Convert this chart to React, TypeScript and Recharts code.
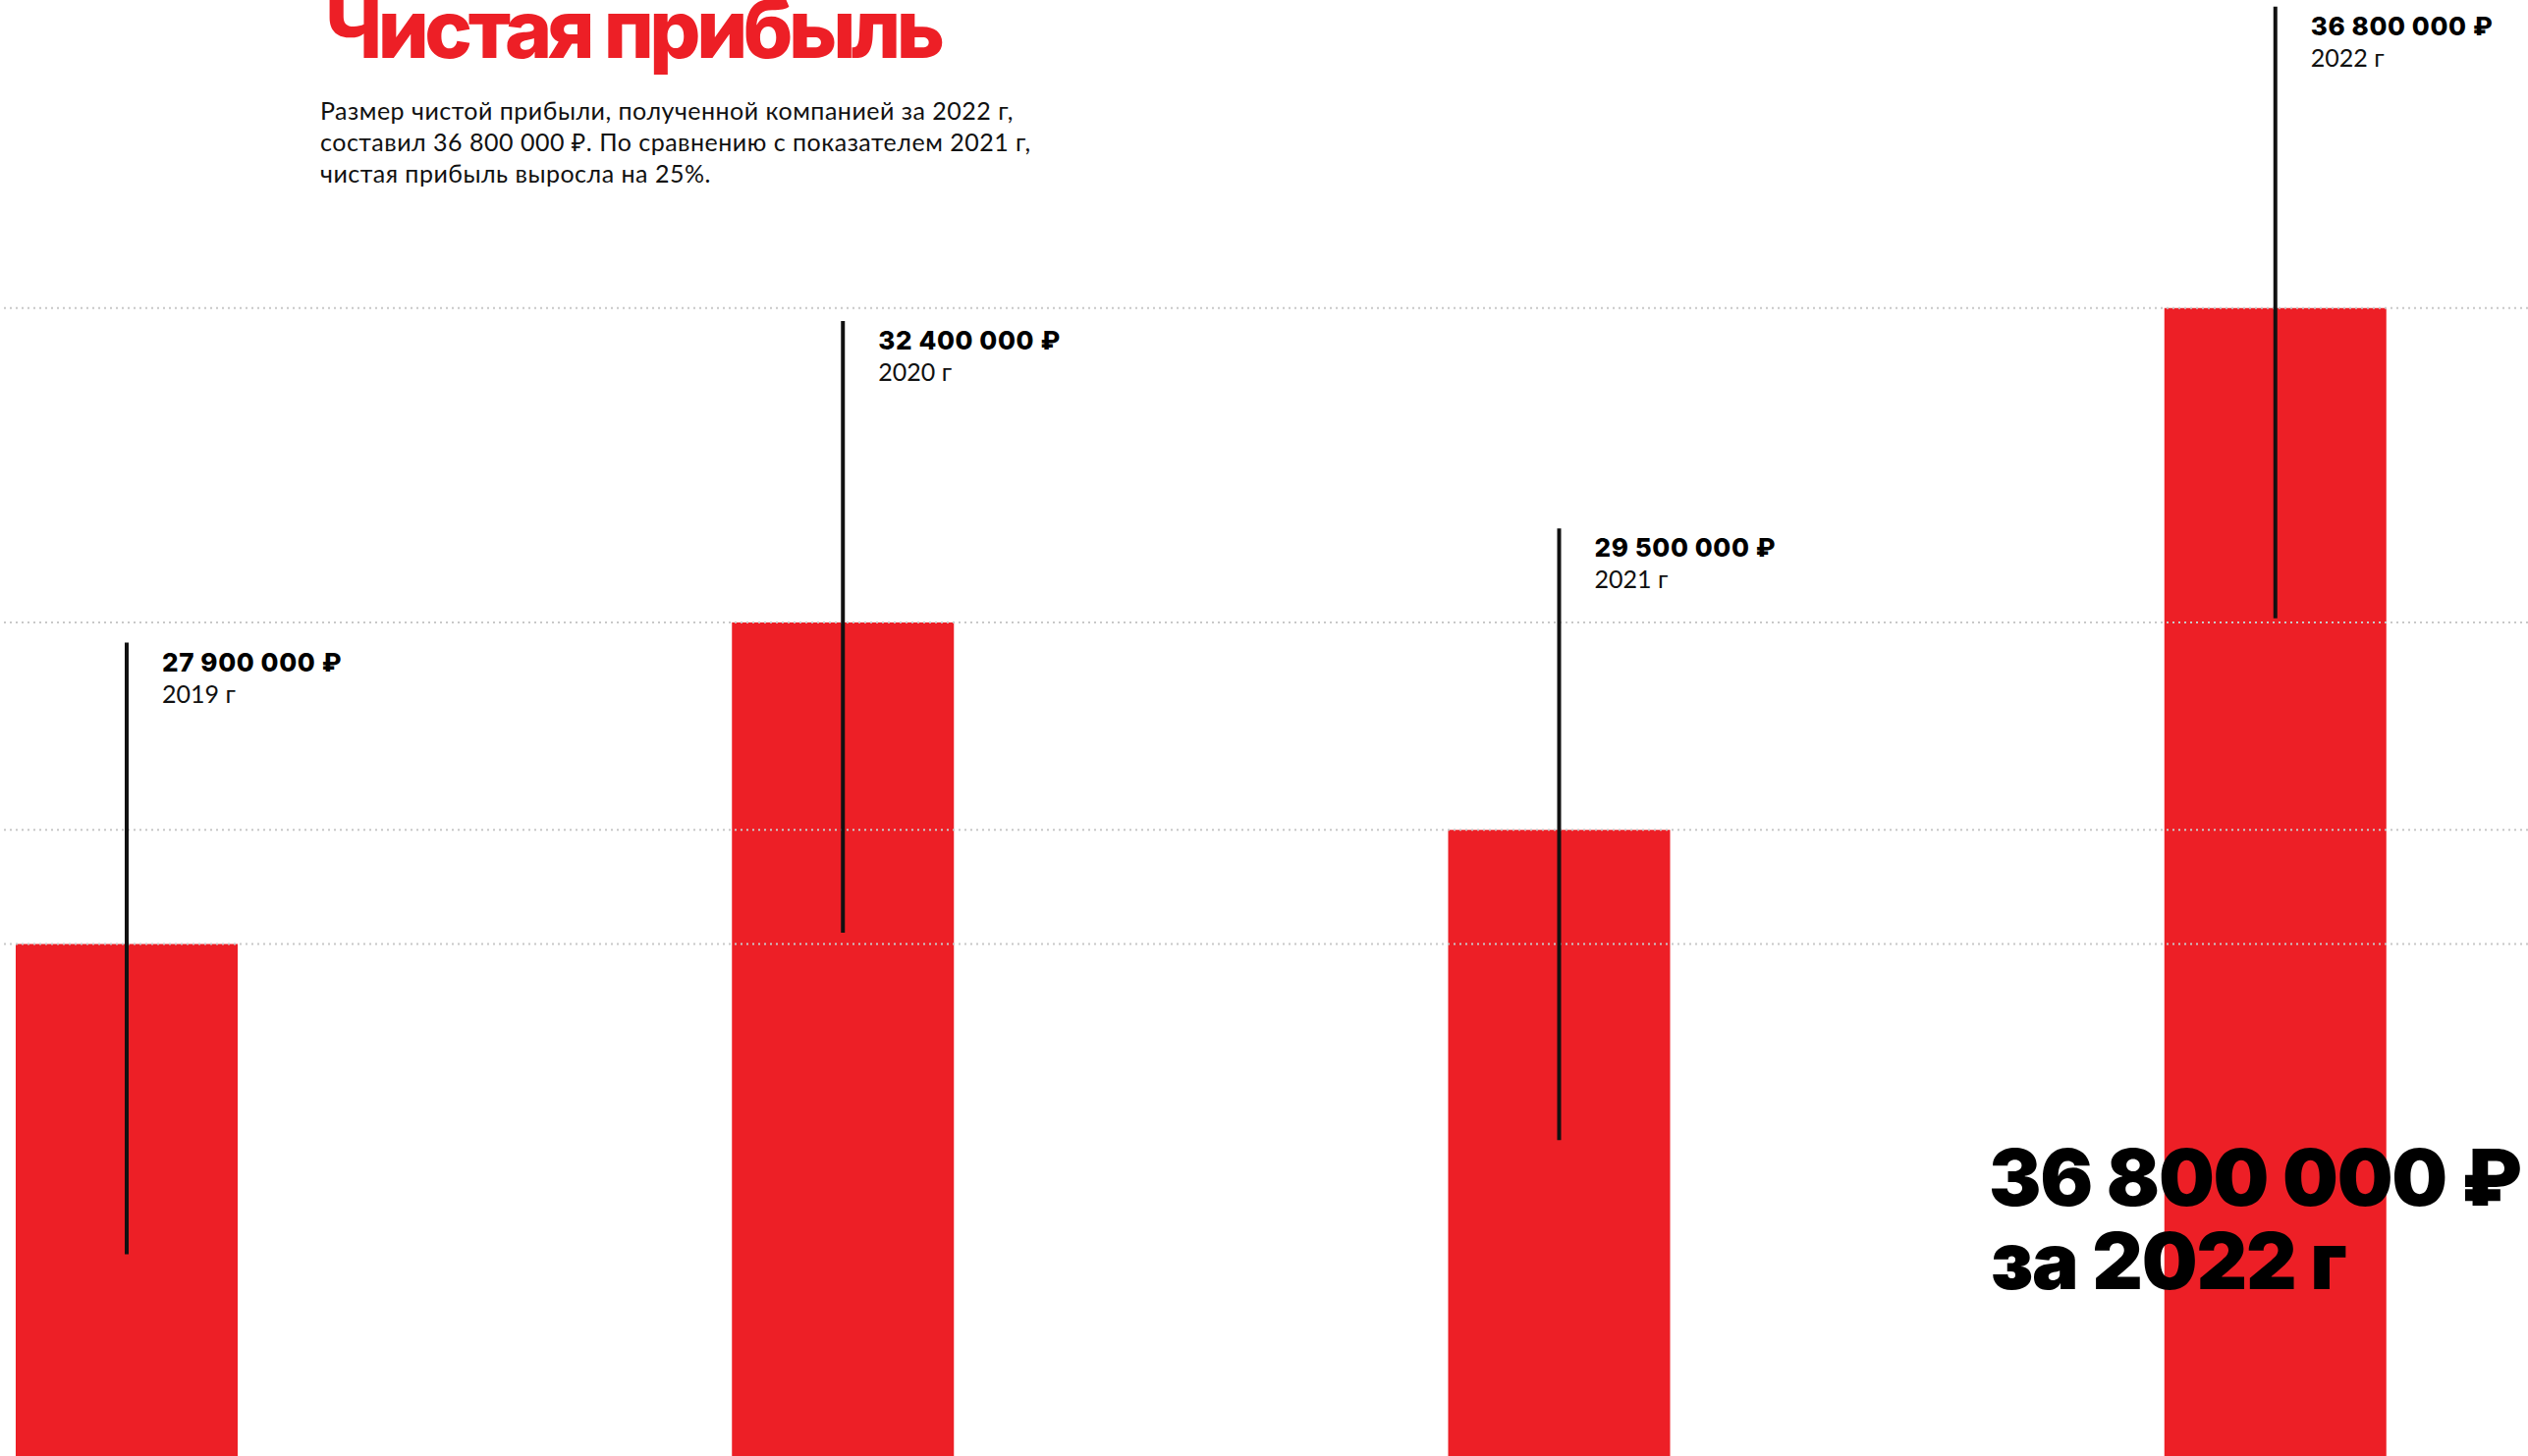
import React from 'react';
import { BarChart, Bar, XAxis, YAxis, ReferenceLine, LabelList } from 'recharts';

// net profit by year, rubles
const years = ['2019', '2020', '2021', '2022'];
const profits = [27900000, 32400000, 29500000, 36800000];

const title = 'Чистая прибыль';
const introLines = [
  'Размер чистой прибыли, полученной компанией за 2022 г,',
  'составил 36 800 000 ₽. По сравнению с показателем 2021 г,',
  'чистая прибыль выросла на 25%.',
];

const RED = '#ED1F26';
const HEAVY = 'Inter, "Noto Sans", sans-serif';
const LIGHT = 'Lato, "Noto Sans", sans-serif';

const W = 2574;
const H = 1483;

const data = years.map((year, i) => ({ year, profit: profits[i] }));

const formatRub = (v: number) =>
  v.toString().replace(/\B(?=(\d{3})+(?!\d))/g, ' ') + ' ₽';

// black stem through each bar with the value + year next to its top
const renderMarker = (props: any) => {
  const { x, y, width, index } = props;
  const cx = Number(x) + Number(width) / 2;
  const top = Number(y);
  const stemTop = top - 307;
  const stemBottom = top + 316;
  return (
    <g key={`m-${index}`}>
      <line x1={cx} x2={cx} y1={stemTop} y2={stemBottom} stroke="#111" strokeWidth={4} />
      <text
        x={cx + 36}
        y={stemTop + 29}
        fontFamily={HEAVY}
        fontWeight={800}
        fontSize={26}
        letterSpacing={0.6}
        fill="#000"
      >
        {formatRub(profits[index])}
      </text>
      <text x={cx + 36} y={stemTop + 61} fontFamily={LIGHT} fontSize={25} fill="#111">
        {years[index]} г
      </text>
    </g>
  );
};

export default function App() {
  const last = profits.length - 1;
  return (
    <div
      style={{
        position: 'absolute',
        top: 0,
        left: 0,
        width: W,
        height: H,
        overflow: 'hidden',
        background: '#fff',
      }}
    >
      <div style={{ position: 'absolute', left: -236, top: 0 }}>
        <BarChart
          width={2917}
          height={H}
          data={data}
          margin={{ top: 0, right: 0, bottom: 0, left: 0 }}
          barSize={226}
        >
          <XAxis dataKey="year" hide />
          <YAxis
            hide
            type="number"
            domain={[20738000, 41109000]}
            allowDataOverflow
            ticks={profits}
          />
          <Bar dataKey="profit" fill={RED} isAnimationActive={false}>
            <LabelList dataKey="profit" content={renderMarker} />
          </Bar>
          {profits.map((v) => (
            <ReferenceLine
              key={v}
              y={v}
              stroke="#c8c8c8"
              strokeWidth={2}
              strokeDasharray="2 4"
            />
          ))}
        </BarChart>
      </div>

      <svg
        width={W}
        height={H}
        style={{ position: 'absolute', left: 0, top: 0, pointerEvents: 'none' }}
      >
        <text
          x={331}
          y={59}
          fontFamily={HEAVY}
          fontWeight={800}
          fontSize={82}
          letterSpacing={-4.5}
          fill={RED}
        >
          {title}
        </text>
        {introLines.map((line, i) => (
          <text
            key={i}
            x={326}
            y={122 + i * 32}
            fontFamily={LIGHT}
            fontSize={25}
            letterSpacing={0.5}
            fill="#111"
          >
            {line}
          </text>
        ))}
        <text
          x={2025}
          y={1228}
          fontFamily={HEAVY}
          fontWeight={900}
          fontSize={80}
          letterSpacing={-1.2}
          fill="#000"
        >
          {formatRub(profits[last])}
        </text>
        <text
          x={2027}
          y={1313}
          fontFamily={HEAVY}
          fontWeight={900}
          fontSize={80}
          letterSpacing={-1.2}
          fill="#000"
        >
          за {years[last]} г
        </text>
      </svg>
    </div>
  );
}
